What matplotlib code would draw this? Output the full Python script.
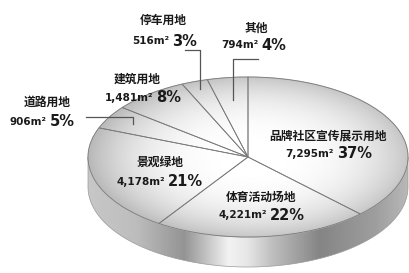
import numpy as np
import matplotlib
matplotlib.use('Agg')
import matplotlib.pyplot as plt
from matplotlib.patches import Polygon, Circle

plt.rcParams['font.family'] = ['Noto Sans CJK SC', 'DejaVu Sans']

# data (clockwise from 12 o'clock)
names = ['品牌社区宣传展示用地', '体育活动场地', '景观绿地', '道路用地', '建筑用地', '停车用地', '其他']
areas = [7295, 4221, 4178, 906, 1481, 516, 794]
pcts = [37, 22, 21, 5, 8, 3, 4]

# label layout in pixels: name centre x, name y, second line y, split x between area and percent
label_pos = [(328, 136, 154, 335),
             (261, 197, 215, 268),
             (160, 162, 182, 166),
             (47, 102, 122, 48),
             (137, 79, 98, 154),
             (163, 20, 41, 170),
             (256, 28, 45, 259)]
# leader lines: wedge index -> (radius, elbow y px, end x px)
leaders = {3: (0.83, 117, 86), 5: (0.9, 50, 185), 6: (0.72, 59, 258)}

W, H = 409, 273
cx, cy, rx, ry = 248, 157, 160, 80
depth = 30 / ry


def to_data(x, y):
    return (x - cx) / rx, (cy - y) / ry


fig = plt.figure(figsize=(W / 100, H / 100), dpi=100)
ax = fig.add_axes([0, 0, 1, 1])

# side of the cake
t = np.linspace(np.pi, 2 * np.pi, 200)
top_edge = np.column_stack([np.cos(t), np.sin(t)])
bot_edge = np.column_stack([np.cos(t[::-1]), np.sin(t[::-1]) - depth])
side = Polygon(np.vstack([top_edge, bot_edge]), closed=True, facecolor='none',
               edgecolor='#9a9a9a', linewidth=0.5, zorder=2)
ax.add_patch(side)
gx = np.linspace(-1, 1, 400)
prof = np.interp(gx, [-1, -0.7, -0.4, -0.12, 0.0, 0.15, 0.45, 0.8, 1.0],
                 [0.78, 0.74, 0.58, 0.95, 0.9, 0.75, 0.52, 0.62, 0.72])
side_img = np.tile(prof, (20, 1))
im = ax.imshow(side_img, extent=(-1, 1, -1 - depth, 0), cmap='gray', vmin=0, vmax=1,
               aspect='auto', zorder=1, interpolation='bilinear')
im.set_clip_path(side)

# top face shading
yy, xx = np.mgrid[-1:1:300j, -1:1:300j]
rr = np.sqrt(xx ** 2 + yy ** 2)
shade = 1 - 0.22 * np.clip(rr, 0, 1) ** 3 - 0.06 * np.clip(-xx, 0, 1) * rr
top = ax.imshow(shade, extent=(-1, 1, -1, 1), origin='lower', cmap='gray', vmin=0, vmax=1,
                aspect='auto', zorder=3, interpolation='bilinear')
disc = Circle((0, 0), 1, transform=ax.transData)
top.set_clip_path(disc)
ax.add_patch(Circle((0, 0), 1, facecolor='none', edgecolor='#c4c4c4', linewidth=0.8, zorder=4))

wedges, _ = ax.pie(areas, startangle=90, counterclock=False, radius=1,
                   wedgeprops=dict(facecolor='none', edgecolor='#7a7a7a', linewidth=0.6))
for w in wedges:
    w.set_zorder(4)

# labels
for i, (nx, ny, ly, sx) in enumerate(label_pos):
    x, y = to_data(nx, ny)
    ax.text(x, y, names[i], ha='center', va='center', fontsize=8.5, fontweight='bold',
            color='#1a1a1a', zorder=6)
    x1, y1 = to_data(sx - 1, ly)
    ax.text(x1, y1, f'{areas[i]:,}m²', ha='right', va='center', fontsize=7.5,
            fontweight='bold', family=['DejaVu Sans'], color='#1a1a1a', zorder=6)
    x2, _ = to_data(sx + 2, ly)
    ax.text(x2, y1, f'{pcts[i]}%', ha='left', va='center', fontsize=10.5,
            fontweight='bold', family=['DejaVu Sans'], color='#1a1a1a', zorder=6)

for i, (r, ey, ex) in leaders.items():
    w = wedges[i]
    mid = np.deg2rad((w.theta1 + w.theta2) / 2)
    px, py = r * np.cos(mid), r * np.sin(mid)
    _, ey_d = to_data(0, ey)
    ex_d, _ = to_data(ex, 0)
    ax.plot([px, px, ex_d], [py, ey_d, ey_d], color='#555555', linewidth=0.9, zorder=5)

ax.set_aspect('auto')
ax.set_xlim(-cx / rx, (W - cx) / rx)
ax.set_ylim((cy - H) / ry, cy / ry)
ax.axis('off')

fig.savefig('out.png', dpi=100, facecolor='white')
